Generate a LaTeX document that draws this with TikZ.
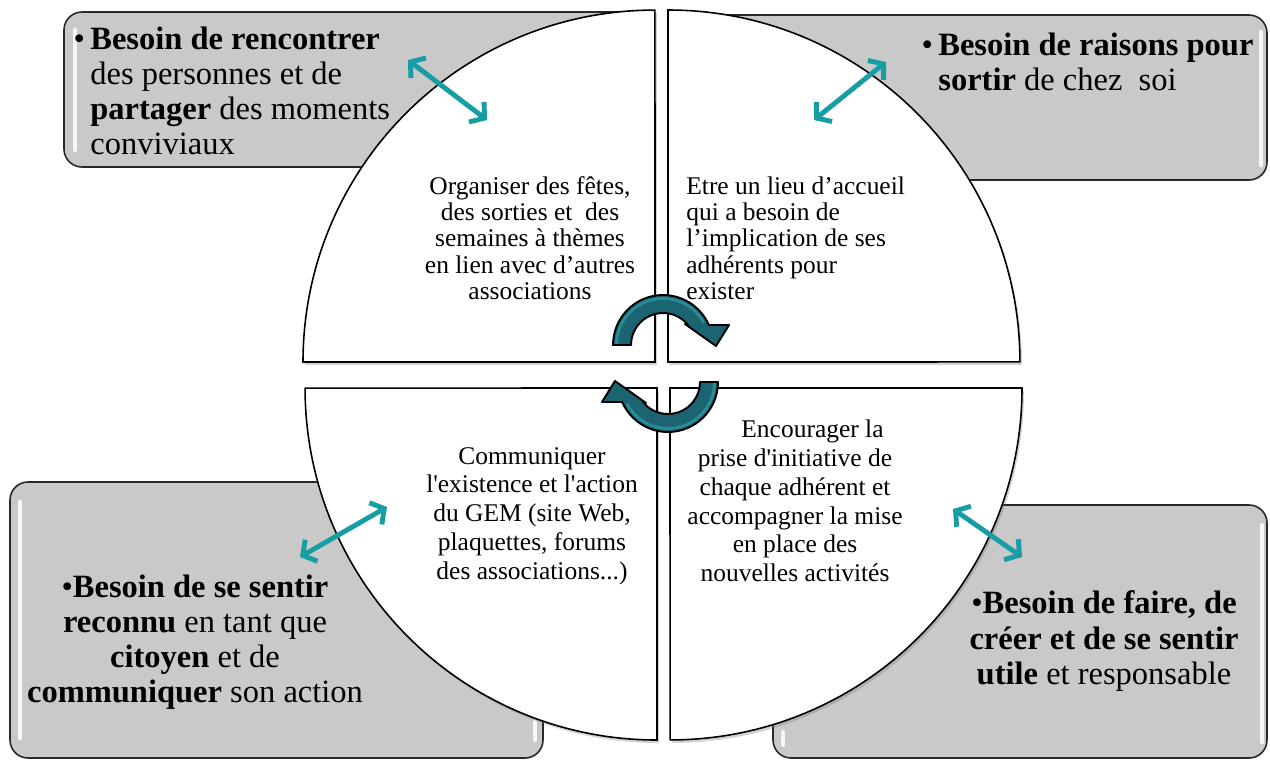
\documentclass[tikz,border=0pt]{standalone}
\usepackage{fontspec}
\setmainfont{Liberation Serif}
\usepackage{xcolor}
\usetikzlibrary{arrows.meta,shadows}
\definecolor{boxgrey}{RGB}{201,201,201}
\definecolor{boxline}{RGB}{40,40,40}
\definecolor{linkteal}{RGB}{22,158,164}
\definecolor{cycteal}{RGB}{28,100,114}
\definecolor{cycrim}{RGB}{40,140,152}
\tikzset{
	needbox/.style={draw=boxline, fill=boxgrey, line width=0.9pt, rounded corners=0.36cm},
	gloss/.style={draw=white, line width=2.5pt, line cap=round, opacity=0.85},
	quad/.style={draw=black, fill=white, line width=0.9pt,
			drop shadow={opacity=0.35, shadow xshift=0.04cm, shadow yshift=-0.06cm}},
	link/.style={{Straight Barb[length=0.2cm, width=0.5cm]}-{Straight Barb[length=0.2cm, width=0.5cm]},
			draw=linkteal, line width=2.8pt, line cap=round},
	cyclearrow/.style={fill=cycteal, draw=black, line width=1.1pt, line join=round,
			postaction={draw=cycrim, line width=1.2pt, shorten >=0pt}},
	needtext/.style={font=\fontsize{18.5}{19.8}\selectfont, inner sep=0pt},
	quadtext/.style={font=\fontsize{14.5}{15}\selectfont, inner sep=0pt}
}
\newcommand{\cyclepath}{(180:1cm) arc[start angle=180, end angle=23.6, radius=1cm] -- (1.32cm, 0.4cm) -- (1.06cm, -0.02cm) -- (0.44cm, 0.42cm) -- (0.5cm, 0.4cm) arc[start angle=38.7, end angle=180, radius=0.64cm] -- cycle}

\begin{document}
\begin{tikzpicture}[x=0.02cm, y=-0.02cm]
		\useasboundingbox[fill=white] (0, 0) rectangle (1270, 762);

		% grey boxes
		\draw[needbox]	(64, 12) rectangle (640, 167);
		\draw[needbox]	(690, 15) rectangle (1267, 180);
		\draw[needbox]	(10, 482) rectangle (543, 758);
		\draw[needbox]	(773, 505) rectangle (1267, 758);
		\draw[gloss]	(75, 30) -- (75, 150);
		\draw[gloss]	(1261, 32) -- (1261, 165);
		\draw[gloss]	(20, 502) -- (20, 738);
		\draw[gloss]	(535, 722) -- (535, 740);
		\draw[gloss]	(1262, 525) -- (1262, 742);
		\draw[gloss]	(783, 732) -- (783, 745);

		% four quarters
		\filldraw[quad]	(655, 362) -- (303, 362) arc[start angle=180, end angle=90, radius=7.04cm] -- cycle;
		\filldraw[quad]	(668, 362) -- (668, 10) arc[start angle=90, end angle=0, radius=7.04cm] -- cycle;
		\filldraw[quad]	(657, 388) -- (657, 740) arc[start angle=270, end angle=180, radius=7.04cm] -- cycle;
		\filldraw[quad]	(670, 388) -- (1022, 388) arc[start angle=0, end angle=-90, radius=7.04cm] -- cycle;

		\node[needtext, align=left, anchor=west] (needmeet) at (90, 91)
			{\llap{\textbullet\kern3pt}\textbf{Besoin de rencontrer}\\des personnes et de\\\textbf{partager} des moments\\conviviaux};
		\node[needtext, align=left, anchor=west] (needout) at (938, 62)
			{\llap{\textbullet\kern3pt}\textbf{Besoin de raisons pour}\\\textbf{sortir} de chez~~soi};
		\node[needtext, font=\fontsize{18.5}{20}\selectfont, align=center] (needknown) at (195, 642)
			{\textbullet\textbf{Besoin de se sentir}\\\textbf{reconnu} en tant que\\\textbf{citoyen} et de\\\textbf{communiquer} son action};
		\node[needtext, font=\fontsize{18.5}{20}\selectfont, align=center] (needmake) at (1104, 641)
			{\textbullet\textbf{Besoin de faire, de}\\\textbf{créer et de se sentir}\\\textbf{utile} et responsable};

		\node[quadtext, align=center] (events) at (530, 238)
			{Organiser des fêtes,\\des sorties et~~des\\semaines à thèmes\\en lien avec d’autres\\associations};
		\node[quadtext, align=left, anchor=west] (place) at (686, 238)
			{Etre un lieu d’accueil\\qui a besoin de\\l’implication de ses\\adhérents pour\\exister};
		\node[quadtext, font=\fontsize{14.5}{16.4}\selectfont, align=center] (share) at (532, 516)
			{Communiquer\\l\textquotesingle existence et l\textquotesingle action\\du GEM (site Web,\\plaquettes, forums\\des associations...)};
		\node[quadtext, font=\fontsize{14.5}{16.4}\selectfont, align=center] (initiative) at (795, 501)
			{\hspace*{0.7cm}Encourager la\\prise d\textquotesingle initiative de\\chaque adhérent et\\accompagner la mise\\en place des\\nouvelles activités};

		% links between needs and actions
		\coordinate (meetA) at (408, 60);	\coordinate (meetB) at (487, 120);
		\coordinate (outA) at (886, 62);	\coordinate (outB) at (814, 120);
		\coordinate (knownA) at (300, 557);	\coordinate (knownB) at (387, 507);
		\coordinate (makeA) at (953, 509);	\coordinate (makeB) at (1022, 557);
		\draw[link]	(meetA) to (meetB);
		\draw[link]	(outA) to (outB);
		\draw[link]	(knownA) to (knownB);
		\draw[link]	(makeA) to (makeB);

		% cycle arrows
		\begin{scope}[shift={(663, 345)}]
			\fill[cycteal] \cyclepath;
			\draw[cycrim, line width=1.6pt] (180:0.93cm) arc[start angle=180, end angle=28, radius=0.93cm];
			\draw[black, line width=1.1pt, line join=round] \cyclepath;
		\end{scope}
		\begin{scope}[shift={(668, 382)}, rotate=180]
			\fill[cycteal] \cyclepath;
			\draw[cycrim, line width=1.6pt] (180:0.93cm) arc[start angle=180, end angle=28, radius=0.93cm];
			\draw[black, line width=1.1pt, line join=round] \cyclepath;
		\end{scope}
	\end{tikzpicture}
\end{document}
